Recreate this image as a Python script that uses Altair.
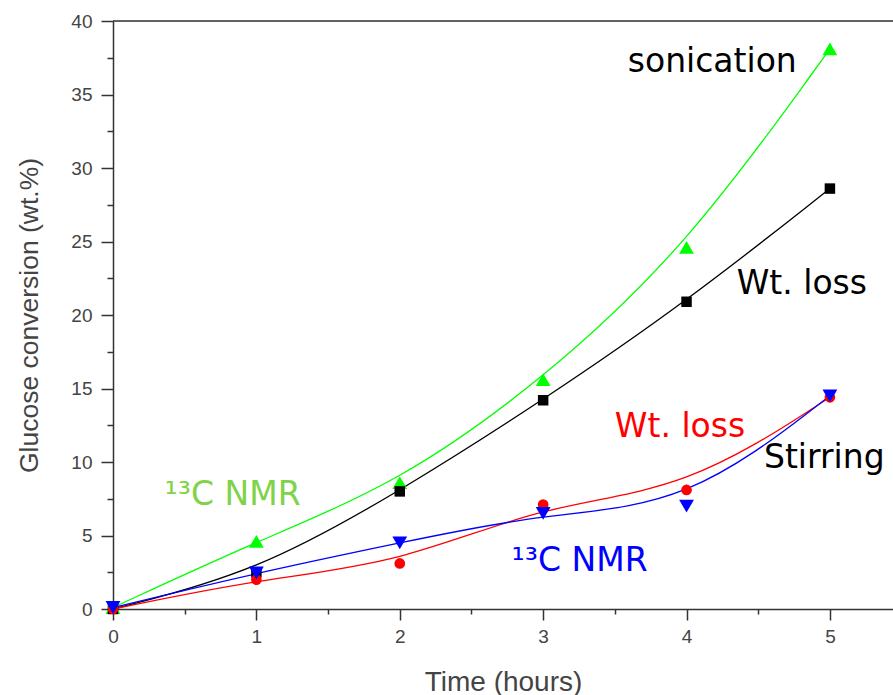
import altair as alt
import pandas as pd

# ---- data ----
time_h = [0, 1, 2, 3, 4, 5]
son_nmr = [0.1, 4.6, 8.6, 15.6, 24.6, 38.1]      # sonication, 13C NMR (green)
son_wt = [0.0, 2.5, 8.0, 14.2, 20.9, 28.6]       # sonication, Wt. loss (black)
stir_wt = [0.0, 2.0, 3.1, 7.1, 8.1, 14.4]        # stirring, Wt. loss (red)
stir_nmr = [0.1, 2.45, 4.5, 6.5, 7.0, 14.5]      # stirring, 13C NMR (blue)

series_names = ["son_nmr", "son_wt", "stir_wt", "stir_nmr"]
series_vals = [son_nmr, son_wt, stir_wt, stir_nmr]
series_colors = ["#00ff00", "#000000", "#ff0000", "#0000ff"]
series_shapes = ["triangle-up", "square", "circle", "triangle-down"]
series_sizes = [220, 110, 115, 220]

x_major = [0, 1, 2, 3, 4, 5]
x_minor = [0.5, 1.5, 2.5, 3.5, 4.5]
y_major = [0, 5, 10, 15, 20, 25, 30, 35, 40]
y_minor = [2.5, 7.5, 12.5, 17.5, 22.5, 27.5, 32.5, 37.5]

ann_text = ["sonication", "Wt. loss", "Wt. loss", "Stirring", "¹³C NMR", "¹³C NMR"]
ann_x = [3.59, 4.35, 3.50, 4.54, 0.36, 2.78]
ann_y = [36.5, 21.4, 11.7, 9.6, 7.1, 2.6]
ann_color = ["#000000", "#000000", "#ff0000", "#000000", "#7fd34a", "#0000ff"]

rows = []
for i, name in enumerate(series_names):
    for t, v in zip(time_h, series_vals[i]):
        rows.append({"series": name, "time": t, "value": v, "ord": i,
                     "msize": series_sizes[i]})
df = pd.DataFrame(rows)
ann = pd.DataFrame({"text": ann_text, "x": ann_x, "y": ann_y, "c": ann_color})

xscale = alt.Scale(domain=[0, 5.44], nice=False, zero=False)
yscale = alt.Scale(domain=[0, 40], nice=False)
cscale = alt.Scale(domain=series_names, range=series_colors)
sscale = alt.Scale(domain=series_names, range=series_shapes)

axis_common = dict(
    grid=False, domainColor="#333333", tickColor="#333333", domainWidth=1.5, tickWidth=1.5,
    labelFont="Liberation Sans", labelFontSize=19, labelColor="#444444", labelFlush=False,
    titleFont="Liberation Sans", titleFontWeight="normal", titleColor="#444444",
)

xaxis = alt.Axis(
    values=x_major, title="Time (hours)", format="d", orient="bottom",
    tickSize=11, labelPadding=7, titleFontSize=28, titlePadding=22, **axis_common,
)
yaxis = alt.Axis(
    values=y_major, title="Glucose conversion (wt.%)", format="d", orient="left",
    tickSize=12, labelPadding=9, titleFontSize=26.5, titlePadding=27, **axis_common,
)
xaxis_minor = alt.Axis(
    values=x_minor, title=None, labels=False, domain=False, orient="bottom",
    tickSize=5, tickColor="#333333", tickWidth=1.5, grid=False,
)
yaxis_minor = alt.Axis(
    values=y_minor, title=None, labels=False, domain=False, orient="left",
    tickSize=6, tickColor="#333333", tickWidth=1.5, grid=False,
)

base = alt.Chart(df)

lines = base.mark_line(interpolate="basis", strokeWidth=1.3).encode(
    x=alt.X("time:Q", scale=xscale, axis=xaxis),
    y=alt.Y("value:Q", scale=yscale, axis=yaxis),
    color=alt.Color("series:N", scale=cscale, legend=None),
    detail="series:N",
)

minor = alt.Chart(ann).mark_point(opacity=0).encode(
    x=alt.X("x:Q", scale=xscale, axis=xaxis_minor),
    y=alt.Y("y:Q", scale=yscale, axis=yaxis_minor),
)

points = base.mark_point(filled=True, opacity=1).encode(
    x=alt.X("time:Q", scale=xscale, axis=None),
    y=alt.Y("value:Q", scale=yscale, axis=None),
    color=alt.Color("series:N", scale=cscale, legend=None),
    shape=alt.Shape("series:N", scale=sscale, legend=None),
    size=alt.Size("msize:Q", scale=None),
    order=alt.Order("ord:Q"),
)

texts = alt.Chart(ann).mark_text(
    align="left", baseline="alphabetic", font="DejaVu Sans", fontSize=33
).encode(
    x=alt.X("x:Q", scale=xscale, axis=None),
    y=alt.Y("y:Q", scale=yscale, axis=None),
    text="text:N",
    color=alt.Color("c:N", scale=None),
)

topline = alt.Chart(ann).mark_rule(color="#333333", strokeWidth=1.5).encode(
    x=alt.value(0), x2=alt.value(780), y=alt.value(0)
).transform_filter("datum.text == 'sonication'")

chart = alt.layer(lines, minor, points, texts, topline).resolve_axis(
    x="independent", y="independent"
).properties(
    width=780, height=588,
    autosize=alt.AutoSizeParams(type="none"),
    padding={"left": 113, "top": 21, "right": 0, "bottom": 86},
).configure_view(stroke=None).configure(background="white")

chart.save("out.html", embed_options={"renderer": "svg", "actions": False})
